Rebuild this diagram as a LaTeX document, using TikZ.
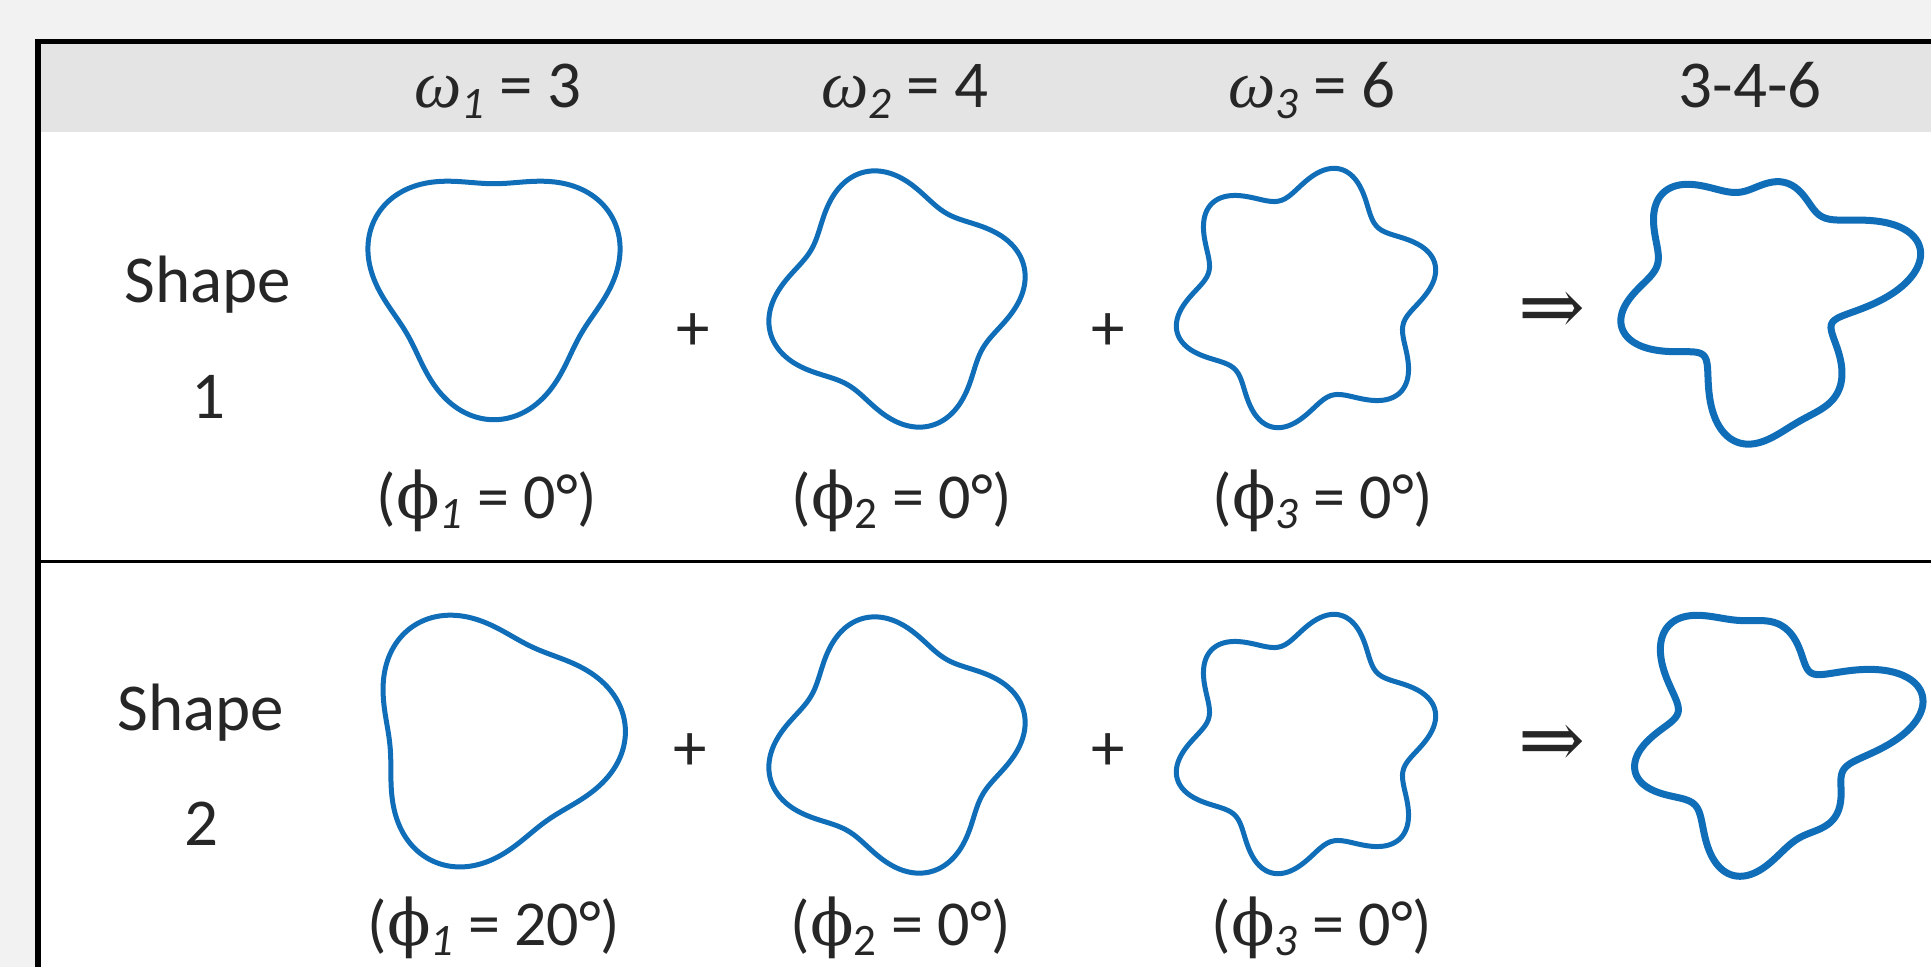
\documentclass[tikz,border=0pt]{standalone}
\usepackage{fontspec}
\usepackage{graphicx}
\setmainfont{Carlito}
\newfontfamily\greekit{Liberation Serif}
\newfontfamily\phifont{DejaVu Serif}
\definecolor{outbg}{RGB}{242,242,242}
\definecolor{headbg}{RGB}{229,228,229}
\definecolor{ink}{RGB}{38,38,38}
\definecolor{blobblue}{RGB}{16,110,185}
\newcommand\lowsub[1]{\raisebox{-0.17em}{\fontsize{45}{50}\selectfont\itshape #1}}
\newcommand\upsub[1]{\raisebox{-0.17em}{\fontsize{45}{50}\selectfont #1}}
\newcommand\om{{\greekit\itshape ω}}
\newcommand\ph{{\phifont ϕ}}
\newcommand\impl{{\phifont\fontsize{80}{90}\selectfont ⇒}}
\newcommand\blob[5]{\draw[#5] plot[domain=0:358,samples=180,smooth cycle,variable=\t] ({#1+#3*(#4)*cos(\t)},{#2+#3*(#4)*sin(\t)});}
\begin{document}
\begin{tikzpicture}[x=1pt,y=1pt,
  txt/.style={font=\fontsize{67}{80}\selectfont, text=ink, inner sep=0pt, anchor=base},
  lbl/.style={font=\fontsize{64}{76}\selectfont, text=ink, inner sep=0pt, anchor=base},
  thinblob/.style={draw=blobblue, line width=5pt, line join=round},
  thickblob/.style={draw=blobblue, line width=7pt, line join=round}]
\useasboundingbox (0,0) rectangle (1931,-967);
\fill[outbg] (0,0) rectangle (1931,-967);
\fill[white] (38,-41.5) rectangle (1931,-967);
\fill[headbg] (38,-41.5) rectangle (1931,-132);
\draw[line width=6pt] (38,-967) -- (38,-39);
\draw[line width=5pt] (35,-41.5) -- (1931,-41.5);
\draw[line width=3pt] (41,-561) -- (1931,-561);
% header
\node[txt] (h1) at (498,-107) {\om\lowsub{1} = 3};
\node[txt] (h2) at (905,-107) {\om\lowsub{2} = 4};
\node[txt] (h3) at (1312,-107) {\om\lowsub{3} = 6};
\node[txt] (h4) at (1750,-107) {3-4-6};
% row 1
\node[txt] (s1a) at (208,-302) {Shape};
\node[txt] (s1b) at (208,-418) {1};
\node[lbl] (p11) at (487,-518) {(\ph\lowsub{1} = 0°)};
\node[lbl] (p12) at (902,-518) {(\ph\upsub{2} = 0°)};
\node[lbl] (p13) at (1323,-518) {(\ph\lowsub{3} = 0°)};
\node[txt] (plus11) at (693,-350) {+};
\node[txt] (plus12) at (1108,-350) {+};
\node[txt] (arr1) at (1552,-334) {\impl};
\blob{494}{-284}{118}{1+0.15*sin(3*\t)}{thinblob}
\blob{897}{-299}{115}{1+0.14*cos(4*(\t-15))}{thinblob}
\blob{1306}{-298}{117}{1+0.14*cos(6*(\t-15))}{thinblob}
\blob{1760}{-296}{120}{1+0.15*sin(3*\t)+0.14*cos(4*(\t-15))+0.14*cos(6*(\t-15))}{thickblob}
% row 2
\node[txt] (s2a) at (201,-730) {Shape};
\node[txt] (s2b) at (201,-845) {2};
\node[lbl] (p21) at (494,-945) {(\ph\lowsub{1} = 20°)};
\node[lbl] (p22) at (901,-945) {(\ph\upsub{2} = 0°)};
\node[lbl] (p23) at (1322,-945) {(\ph\lowsub{3} = 0°)};
\node[txt] (plus21) at (690,-770) {+};
\node[txt] (plus22) at (1108,-770) {+};
\node[txt] (arr2) at (1552,-767) {\impl};
\blob{490}{-738}{118}{1+0.15*sin(3*(\t+25))}{thinblob}
\blob{897}{-745}{115}{1+0.14*cos(4*(\t-15))}{thinblob}
\blob{1306}{-744}{117}{1+0.14*cos(6*(\t-15))}{thinblob}
\blob{1762}{-736}{116}{1+0.15*sin(3*(\t+20))+0.14*cos(4*(\t-15))+0.14*cos(6*(\t-15))}{thickblob}
\end{tikzpicture}
\end{document}
